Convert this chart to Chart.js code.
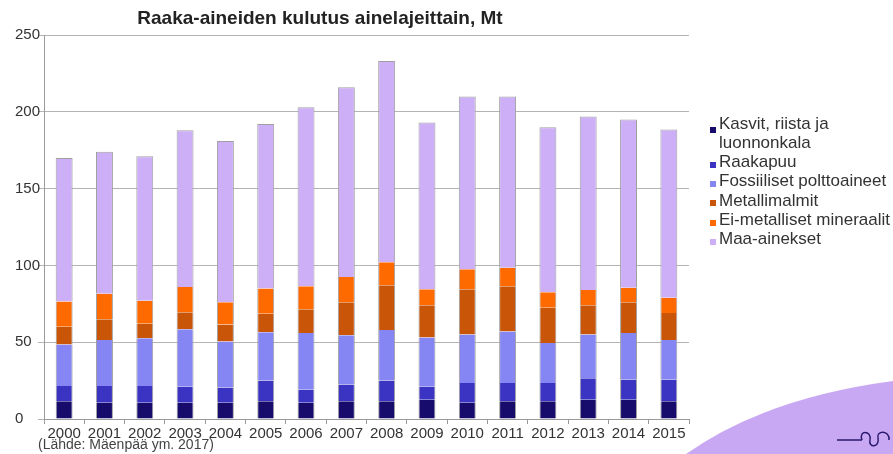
<!DOCTYPE html>
<html>
<head>
<meta charset="utf-8">
<script src="https://cdn.jsdelivr.net/npm/chart.js@4.4.1/dist/chart.umd.min.js"></script>
<style>
  html, body { margin: 0; padding: 0; background: #fff; }
  #wrap { position: relative; width: 893px; height: 454px; overflow: hidden; font-family: "Liberation Sans", Arial, sans-serif; }
  #deco { position: absolute; left: 0; top: 0; }
  #c { position: absolute; left: 0; top: 0; }
  #title { position: absolute; left: 0; width: 640px; top: 7px; text-align: center; font-weight: bold; font-size: 19px; line-height: 22px; color: #222; }
  #source { position: absolute; left: 38px; top: 436px; font-size: 14px; line-height: 16px; color: #444; }
  .lg { position: absolute; left: 719px; font-size: 17px; line-height: 19.3px; color: #333; white-space: nowrap; }
  .mk { position: absolute; left: 710px; width: 6px; height: 6px; }
</style>
</head>
<body>
<div id="wrap">
  <svg id="deco" width="893" height="454">
    <path d="M 686 454 Q 765 398 893 381 L 893 454 Z" fill="#c9a8f3"/>
    <path d="M 837 440 L 862 440 M 862 440 C 858 430, 872 430, 870 440 C 868 448, 880 448, 878 438 C 876 430, 890 430, 889 440" fill="none" stroke="#2a1a70" stroke-width="1.5"/>
  </svg>
  <canvas id="c" width="893" height="454"></canvas>
  <div id="title">Raaka-aineiden kulutus ainelajeittain, Mt</div>
  <div id="source">(Lähde: Mäenpää ym. 2017)</div>
  <div id="legend"></div>
</div>
<script>
const years = ["2000","2001","2002","2003","2004","2005","2006","2007","2008","2009","2010","2011","2012","2013","2014","2015"];
const seriesNames = ["Kasvit, riista ja luonnonkala","Raakapuu","Fossiiliset polttoaineet","Metallimalmit","Ei-metalliset mineraalit","Maa-ainekset"];
const kasvit   = [11.5,10.5,10.5,10.5,10.5,11.5,10.5,11.5,11.5,12.5,10.5,11.5,11.5,12.5,12.5,11.5];
const raakapuu = [10,11,11,10.5,10,13.5,8.5,11,13.5,8.5,13,12,12,14,13,14];
const fossiiliset = [27,30,31,37.5,30,31.5,37,32,33,32,31.5,33.5,26,28.5,30.5,26];
const metallimalmit = [11.5,13.5,9.5,11,11,12,15.5,21.5,29,21,29.5,29.5,23,19,20,17.5];
const eiMetalliset = [16.5,16.5,15,16.5,14.5,16.5,15,16.5,15,10.5,13,12,10,10,9.5,10];
const maaAinekset = [93.5,92.5,94,102,105,107,116.5,123.5,131,108.5,112.5,111.5,107.5,113,109.5,109.5];
const yTicks = [0,50,100,150,200,250];

const colors = ["#170c6c","#3b34c2","#8585f4","#c95508","#ff6a00","#ccaff6"];
const values = [kasvit, raakapuu, fossiiliset, metallimalmit, eiMetalliset, maaAinekset];

const datasets = values.map((v, i) => ({
  label: seriesNames[i],
  data: v,
  backgroundColor: colors[i],
  borderColor: "#a0a0a0",
  borderWidth: i === 5 ? {left:1,right:1,top:1,bottom:0} : {left:1,right:1,top:0,bottom:0},
  borderSkipped: false,
  barPercentage: 0.42,
  categoryPercentage: 1.0
}));

new Chart(document.getElementById("c"), {
  type: "bar",
  data: { labels: years, datasets },
  options: {
    responsive: false,
    animation: false,
    layout: { padding: { left: 15, right: 204, top: 35, bottom: 0 } },
    plugins: { legend: { display: false }, title: { display: false }, tooltip: { enabled: false } },
    scales: {
      x: {
        stacked: true,
        grid: { offset: true, drawOnChartArea: false, color: "#9a9a9a", tickLength: 5 },
        border: { display: true, color: "#9a9a9a" },
        ticks: { color: "#333", font: { family: "Liberation Sans", size: 15 }, padding: 1, maxRotation: 0, autoSkip: false },
        afterFit: s => { s.height = 35; }
      },
      y: {
        stacked: true,
        min: 0, max: 250,
        afterBuildTicks: s => { s.ticks = yTicks.map(v => ({ value: v })); },
        grid: { color: "#b4b4b4", tickLength: 6 },
        border: { display: true, color: "#9a9a9a" },
        ticks: { color: "#333", font: { family: "Liberation Sans", size: 15 }, crossAlign: "far", padding: 4 },
        afterFit: s => { s.width = 29; }
      }
    }
  }
});

// HTML legend
const legend = document.getElementById("legend");
const lgTops = [114, 152, 171.4, 190.7, 210, 229.4];
const mkTops = [127, 162, 181, 200, 219.6, 239];
seriesNames.forEach((name, i) => {
  const t = document.createElement("div");
  t.className = "lg";
  t.style.top = lgTops[i] + "px";
  if (i === 0) { t.innerHTML = "Kasvit, riista ja<br>luonnonkala"; } else { t.textContent = name; }
  legend.appendChild(t);
  const m = document.createElement("div");
  m.className = "mk";
  m.style.top = mkTops[i] + "px";
  m.style.background = colors[i];
  legend.appendChild(m);
});
</script>
</body>
</html>
